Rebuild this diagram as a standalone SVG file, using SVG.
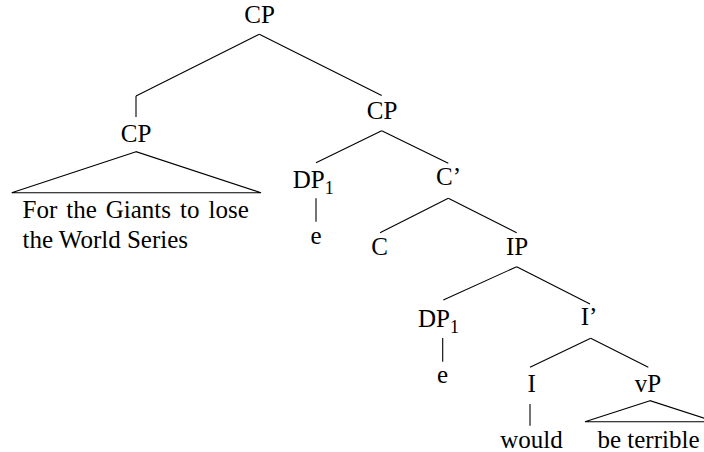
<svg xmlns="http://www.w3.org/2000/svg" width="704" height="452" viewBox="0 0 704 452">
<style>
text{font-family:'Liberation Serif','Times New Roman','DejaVu Serif',serif;font-size:25px;fill:#000}
.m{text-anchor:middle}
.sub{font-size:18px}
line,polygon,polyline{stroke:#000;stroke-width:1.1;fill:none}
</style>
<rect width="704" height="452" fill="#fff"/>
<g id="connectors">
<line x1="259.3" y1="34.3" x2="136" y2="96"/>
<line x1="136" y1="96" x2="136" y2="117"/>
<line x1="259.3" y1="34.3" x2="381.7" y2="95.5"/>
<polygon points="136,151.7 11.7,192.7 261,192.7"/>
<line x1="381.7" y1="130.7" x2="316" y2="162.7"/>
<line x1="381.7" y1="130.7" x2="448.3" y2="163.3"/>
<line x1="316" y1="198.3" x2="316" y2="221.7"/>
<line x1="448.3" y1="198.3" x2="380" y2="232.7"/>
<line x1="448.3" y1="198.3" x2="516.7" y2="232.7"/>
<line x1="516.7" y1="266.7" x2="443.3" y2="300"/>
<line x1="516.7" y1="266.7" x2="590" y2="304"/>
<line x1="442.7" y1="338" x2="442.7" y2="361.7"/>
<line x1="590.7" y1="338.3" x2="530" y2="367.3"/>
<line x1="590.7" y1="338.3" x2="648.3" y2="367.3"/>
<line x1="530" y1="404" x2="530" y2="425.7"/>
<polygon points="650,400.7 585,421.7 715,421.7"/>
</g>
<g id="cp-root"><text class="m" x="259.5" y="23">CP</text></g>
<g id="cp-left"><text class="m" x="136" y="141.5">CP</text></g>
<g id="cp-left-text"><text x="22.5" y="218" word-spacing="2.75">For the Giants to lose</text><text x="22.5" y="248">the World Series</text></g>
<g id="cp-right"><text class="m" x="382" y="119">CP</text></g>
<g id="dp1-upper"><text x="292.7" y="188.3">DP<tspan class="sub" dy="6">1</tspan></text></g>
<g id="e-upper"><text class="m" x="316" y="244">e</text></g>
<g id="cbar"><text class="m" x="448.5" y="185">C’</text></g>
<g id="c"><text class="m" x="379.6" y="255">C</text></g>
<g id="ip"><text class="m" x="517" y="255">IP</text></g>
<g id="dp1-lower"><text x="418" y="327">DP<tspan class="sub" dy="6">1</tspan></text></g>
<g id="e-lower"><text class="m" x="442.5" y="383">e</text></g>
<g id="ibar"><text class="m" x="589" y="325">I’</text></g>
<g id="i"><text class="m" x="531.7" y="391.7">I</text></g>
<g id="vp"><text class="m" x="648" y="391.7">vP</text></g>
<g id="would"><text class="m" x="531.5" y="448">would</text></g>
<g id="be-terrible"><text class="m" x="648.5" y="448">be terrible</text></g>
</svg>
